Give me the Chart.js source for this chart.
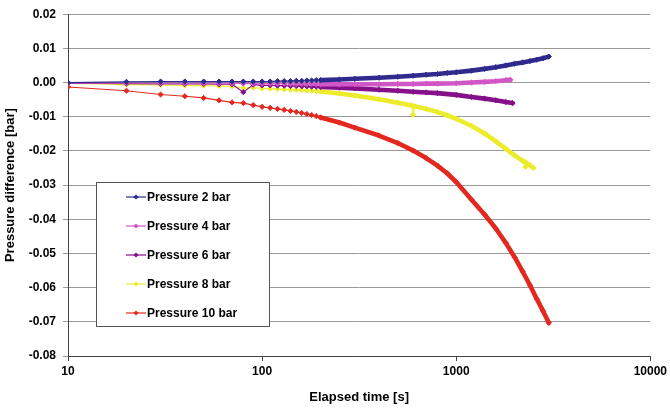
<!DOCTYPE html>
<html>
<head>
<meta charset="utf-8">
<script src="https://cdn.jsdelivr.net/npm/chart.js@4.4.1/dist/chart.umd.min.js"></script>
<style>
  html, body { margin: 0; padding: 0; background: #fff; }
  #wrap { width: 670px; height: 408px; }
</style>
</head>
<body>
<div id="wrap"><canvas id="chart"></canvas></div>
<script>
// Elapsed time [s] and pressure difference [bar]
const times2 = [10,20,30,40,50,60,70,80,90,100,110,120,130,140,150,160,170,180,190,200,
  250,300,400,500,600,700,800,900,1000,1200,1400,1600,1800,2000,2200,2400,2600,2800,3000];
const diff2 = [0.0000,0.0002,0.0003,0.0003,0.0003,0.0003,0.0003,0.0003,0.0003,0.0003,
  0.0003,0.0004,0.0004,0.0004,0.0005,0.0005,0.0006,0.0006,0.0007,0.0007,
  0.0009,0.0011,0.0014,0.0017,0.0020,0.0023,0.0025,0.0028,0.0030,0.0035,
  0.0040,0.0045,0.0050,0.0055,0.0059,0.0063,0.0067,0.0071,0.0076];

const times4 = [10,20,30,40,50,60,70,80,90,100,110,120,130,140,150,160,170,180,190,200,
  250,300,400,500,600,700,800,1000,1200,1400,1600,1800,1900];
const diff4 = [-0.0001,-0.0002,-0.0002,-0.0002,-0.0002,-0.0002,-0.0002,-0.0003,-0.0003,-0.0003,
  -0.0003,-0.0003,-0.0003,-0.0004,-0.0004,-0.0004,-0.0004,-0.0004,-0.0005,-0.0005,
  -0.0005,-0.0005,-0.0005,-0.0004,-0.0004,-0.0003,-0.0003,-0.0002,0.0000,0.0002,
  0.0004,0.0007,0.0008];

const times6 = [10,20,30,40,50,60,70,80,90,100,110,120,130,140,150,160,170,180,190,200,
  250,300,400,500,600,700,800,1000,1200,1400,1600,1800,1950];
const diff6 = [-0.0002,-0.0003,-0.0004,-0.0004,-0.0004,-0.0005,-0.0005,-0.0028,-0.0006,-0.0008,
  -0.0008,-0.0009,-0.0009,-0.0010,-0.0010,-0.0011,-0.0011,-0.0012,-0.0012,-0.0013,
  -0.0015,-0.0017,-0.0021,-0.0024,-0.0027,-0.0029,-0.0031,-0.0036,-0.0042,-0.0047,
  -0.0052,-0.0057,-0.0060];

const times8 = [10,20,30,40,50,60,70,80,90,100,110,120,130,140,150,160,170,180,190,200,
  250,300,400,500,590,600,610,700,800,900,1000,1200,1400,1600,1800,2000,2200,2260,2270,2280,2400,2500];
const diff8 = [-0.0002,-0.0006,-0.0007,-0.0009,-0.0009,-0.0010,-0.0011,-0.0016,-0.0015,-0.0017,
  -0.0018,-0.0019,-0.0020,-0.0021,-0.0022,-0.0022,-0.0023,-0.0024,-0.0025,-0.0026,
  -0.0032,-0.0038,-0.0049,-0.0059,-0.0067,-0.0094,-0.0069,-0.0077,-0.0086,-0.0096,-0.0106,
  -0.0127,-0.0149,-0.0172,-0.0194,-0.0213,-0.0229,-0.0233,-0.0247,-0.0234,-0.0242,-0.0250];

const times10 = [10,20,30,40,50,60,70,80,90,100,110,120,130,140,150,160,170,180,190,200,
  250,300,400,500,600,700,800,900,1000,1200,1400,1600,1800,2000,2200,2400,2600,2800,3000];
const diff10 = [-0.0013,-0.0024,-0.0035,-0.0040,-0.0045,-0.0052,-0.0058,-0.0060,-0.0066,-0.0071,
  -0.0074,-0.0077,-0.0080,-0.0083,-0.0086,-0.0089,-0.0092,-0.0095,-0.0098,-0.0102,
  -0.0117,-0.0132,-0.0155,-0.0177,-0.0199,-0.0221,-0.0243,-0.0266,-0.0291,-0.0343,
  -0.0386,-0.0427,-0.0469,-0.0511,-0.0553,-0.0593,-0.0633,-0.0668,-0.0703];

const seriesNames = ['Pressure 2 bar', 'Pressure 4 bar', 'Pressure 6 bar', 'Pressure 8 bar', 'Pressure 10 bar'];
const seriesColors = ['#2e2a8e', '#d257c6', '#85108a', '#ecec2c', '#e3291f'];
const xTicks = [10, 100, 1000, 10000];

function toPoints(ts, vs) {
  return ts.map((t, i) => ({ x: t, y: vs[i] }));
}

const allSeries = [
  toPoints(times2, diff2),
  toPoints(times4, diff4),
  toPoints(times6, diff6),
  toPoints(times8, diff8),
  toPoints(times10, diff10)
];

const FONT = '"Liberation Sans", Arial, sans-serif';

// dense logger samples merge into a thick band at later times;
// single spikes stay thin
function segWidth(ctx) {
  const x0 = ctx.p0.parsed.x, x1 = ctx.p1.parsed.x;
  return (x0 >= 200 && x1 - x0 > 15) ? 4.6 : 1.2;
}

const datasets = allSeries.map((pts, i) => ({
  label: seriesNames[i],
  data: pts,
  borderColor: seriesColors[i],
  backgroundColor: seriesColors[i],
  borderWidth: 1.2,
  borderCapStyle: 'round',
  borderJoinStyle: 'round',
  pointStyle: 'rectRot',
  pointRadius: 2.6,
  pointBorderWidth: 1,
  tension: 0,
  segment: { borderWidth: segWidth }
}));

// legend box drawn inside the plot, like the original
const boxLegend = {
  id: 'boxLegend',
  afterDraw(chart) {
    const c = chart.ctx;
    const left = 96, top = 182, w = 173, h = 144;
    c.save();
    c.fillStyle = '#fff';
    c.fillRect(left, top, w, h);
    c.strokeStyle = '#555';
    c.lineWidth = 1;
    c.strokeRect(left + 0.5, top + 0.5, w, h);
    c.font = 'bold 12px ' + FONT;
    c.textBaseline = 'middle';
    chart.data.datasets.forEach((ds, i) => {
      const y = 197 + i * 29;
      c.strokeStyle = ds.borderColor;
      c.lineWidth = 1.2;
      c.beginPath();
      c.moveTo(126, y);
      c.lineTo(146, y);
      c.stroke();
      c.fillStyle = ds.borderColor;
      c.beginPath();
      c.moveTo(136, y - 2.6);
      c.lineTo(138.6, y);
      c.lineTo(136, y + 2.6);
      c.lineTo(133.4, y);
      c.closePath();
      c.fill();
      c.fillStyle = '#000';
      c.fillText(ds.label, 147, y + 0.5);
    });
    c.restore();
  }
};

new Chart(document.getElementById('chart'), {
  type: 'line',
  data: { datasets: datasets },
  options: {
    responsive: true,
    maintainAspectRatio: false,
    animation: false,
    layout: { padding: { left: 0, right: 18, top: 14, bottom: 0 } },
    plugins: {
      legend: { display: false },
      tooltip: { enabled: false }
    },
    scales: {
      x: {
        type: 'logarithmic',
        min: 10,
        max: 10000,
        afterBuildTicks: scale => { scale.ticks = xTicks.map(v => ({ value: v })); },
        afterFit: scale => { scale.height = 52; },
        border: { color: '#444', width: 1 },
        grid: { drawOnChartArea: false, drawTicks: true, tickLength: 5, color: '#444' },
        ticks: {
          color: '#000',
          padding: 3,
          maxRotation: 0,
          autoSkip: false,
          font: { family: FONT, size: 12, weight: 'bold' },
          callback: v => String(v)
        },
        title: {
          display: true,
          text: 'Elapsed time [s]',
          color: '#000',
          padding: { top: 2, bottom: 3 },
          font: { family: FONT, size: 13, weight: 'bold' }
        }
      },
      y: {
        min: -0.08,
        max: 0.02,
        afterFit: scale => { scale.width = 68; },
        border: { color: '#444', width: 1 },
        grid: { color: '#9a9a9a', tickLength: 5, drawTicks: true },
        ticks: {
          stepSize: 0.01,
          color: '#000',
          padding: 7,
          font: { family: FONT, size: 12, weight: 'bold' },
          callback: v => (Math.abs(v) < 1e-9 ? 0 : v).toFixed(2)
        },
        title: {
          display: true,
          text: 'Pressure difference [bar]',
          color: '#000',
          padding: { top: 3, bottom: 0 },
          font: { family: FONT, size: 13, weight: 'bold' }
        }
      }
    }
  },
  plugins: [boxLegend]
});
</script>
</body>
</html>
